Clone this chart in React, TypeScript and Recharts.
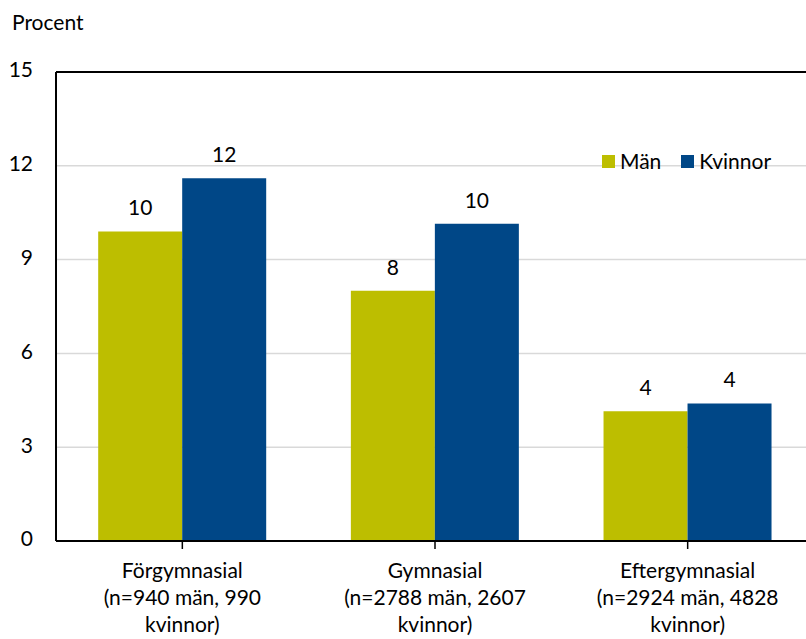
import { BarChart, Bar, XAxis, YAxis, CartesianGrid, LabelList, ReferenceLine } from "recharts";

const categories = [
  "Förgymnasial\n(n=940 män, 990\nkvinnor)",
  "Gymnasial\n(n=2788 män, 2607\nkvinnor)",
  "Eftergymnasial\n(n=2924 män, 4828\nkvinnor)",
];
const man = [9.9, 8.0, 4.15];
const kvinnor = [11.6, 10.15, 4.4];
const yTicks = [0, 3, 6, 9, 12, 15];

const data = categories.map((name, i) => ({ name, man: man[i], kvinnor: kvinnor[i] }));

const FONT = "Lato, 'Open Sans', sans-serif";
const FS = 21;
const GREEN = "#BDBE00";
const BLUE = "#004787";

const XTick = ({ x, y, payload }: any) => {
  const lines = String(payload.value).split("\n");
  return (
    <g>
      {lines.map((l, i) => (
        <text key={i} x={x} y={y + 22 + i * 27} textAnchor="middle" dominantBaseline="middle" fontSize={FS} fill="#000" fontFamily={FONT}>
          {l}
        </text>
      ))}
    </g>
  );
};

const YTick = ({ y, payload }: any) => (
  <text x={33} y={y} textAnchor="end" dominantBaseline="middle" fontSize={FS} fill="#000" fontFamily={FONT}>
    {payload.value}
  </text>
);

export default function App() {
  return (
    <div style={{ position: "absolute", left: 0, top: 0, width: 806, height: 639, overflow: "hidden", background: "#fff" }}>
      <div style={{ position: "absolute", left: 12, top: 8, fontFamily: FONT, fontSize: FS, lineHeight: "28px" }}>Procent</div>
      <div style={{ position: "absolute", left: 602, top: 147, display: "flex", alignItems: "center", fontFamily: FONT, fontSize: FS, lineHeight: "28px", color: "#000", zIndex: 2 }}>
        <span style={{ width: 13, height: 13, background: GREEN, display: "inline-block", marginRight: 5 }} />
        <span style={{ marginRight: 20 }}>Män</span>
        <span style={{ width: 13, height: 13, background: BLUE, display: "inline-block", marginRight: 5 }} />
        <span>Kvinnor</span>
      </div>
      <BarChart width={830} height={639} data={data} margin={{ top: 72, right: 16, left: 0, bottom: 68 }} barCategoryGap="16.7%" barGap={0}>
        <CartesianGrid vertical={false} stroke="#d9d9d9" strokeWidth={1.5} />
        <XAxis dataKey="name" height={30} tick={<XTick />} tickLine={{ stroke: "#000", strokeWidth: 1.5 }} tickSize={8} axisLine={{ stroke: "#000", strokeWidth: 2 }} interval={0} />
        <YAxis width={56} domain={[0, 15]} ticks={yTicks} tick={<YTick />} tickLine={false} axisLine={{ stroke: "#000", strokeWidth: 2 }} />
        <ReferenceLine y={15} stroke="#000" strokeWidth={2} />
        <Bar dataKey="man" name="Män" fill={GREEN} isAnimationActive={false}>
          <LabelList dataKey="man" position="top" offset={16} formatter={(v: any) => Math.round(v)} style={{ fontSize: FS, fill: "#000", fontFamily: FONT }} />
        </Bar>
        <Bar dataKey="kvinnor" name="Kvinnor" fill={BLUE} isAnimationActive={false}>
          <LabelList dataKey="kvinnor" position="top" offset={16} formatter={(v: any) => Math.round(v)} style={{ fontSize: FS, fill: "#000", fontFamily: FONT }} />
        </Bar>
      </BarChart>
    </div>
  );
}
